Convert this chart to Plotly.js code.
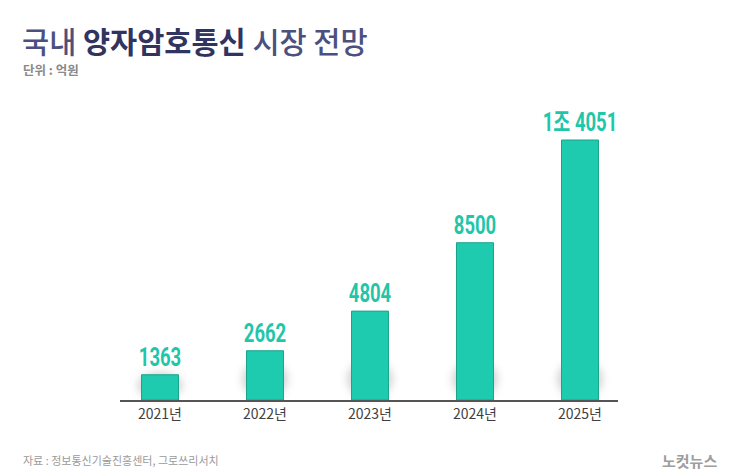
<!DOCTYPE html>
<html>
<head>
<meta charset="utf-8">
<script src="https://cdn.plot.ly/plotly-3.0.1.min.js"></script>
<style>
  html, body { margin: 0; padding: 0; background: #ffffff; }
  #chart { width: 740px; height: 476px; }
</style>
</head>
<body>
<div id="chart"></div>
<script>
const categories = ["2021년", "2022년", "2023년", "2024년", "2025년"];
const values = [1363, 2662, 4804, 8500, 14051];
const valueLabels = ["1363", "2662", "4804", "8500", "1조 4051"];

const korean = "'Noto Sans CJK KR', 'Noto Sans', sans-serif";
const labelFont = "Roboto, 'Noto Sans CJK KR', sans-serif";

const trace = {
  type: "bar",
  x: categories,
  y: values,
  text: valueLabels,
  textposition: "outside",
  constraintext: "none",
  cliponaxis: false,
  textfont: { family: labelFont, size: 25, color: "#1fc6a9", weight: 700 },
  width: 0.352,
  marker: { color: "#1fcbaf", line: { color: "#18a48c", width: 1 } },
  hoverinfo: "skip"
};

const plotW = 740 - 120 - 122, plotH = 476 - 100 - 76;
function px(x) { return (x - 120) / plotW; }
function py(y) { return (476 - 76 - y) / plotH; }

const layout = {
  width: 740,
  height: 476,
  paper_bgcolor: "#ffffff",
  plot_bgcolor: "#ffffff",
  margin: { l: 120, r: 122, t: 100, b: 76 },
  showlegend: false,
  bargap: 0,
  xaxis: {
    type: "category",
    range: [-0.381, 4.362],
    showgrid: false,
    zeroline: false,
    showline: true,
    linecolor: "#555555",
    linewidth: 2,
    ticks: "",
    tickfont: { family: korean, size: 14, color: "#3f3f3f" },
    fixedrange: true
  },
  yaxis: {
    range: [0, 16213],
    visible: false,
    showgrid: false,
    zeroline: false,
    fixedrange: true
  },
  annotations: [
    {
      xref: "paper", yref: "paper", x: px(20), y: py(40),
      xanchor: "left", yanchor: "middle", showarrow: false,
      text: "<span style='font-weight:500;color:#4b5080'>국내 </span><b>양자암호통신</b><span style='font-weight:500;color:#4b5080'> 시장 전망</span>",
      font: { family: korean, size: 29.5, color: "#30345f" }
    },
    {
      xref: "paper", yref: "paper", x: px(21), y: py(70),
      xanchor: "left", yanchor: "middle", showarrow: false,
      text: "<b>단위 : 억원</b>",
      font: { family: korean, size: 12.5, color: "#8a8a8a" }
    },
    {
      xref: "paper", yref: "paper", x: px(21), y: py(460),
      xanchor: "left", yanchor: "middle", showarrow: false,
      text: "자료 : 정보통신기술진흥센터, 그로쓰리서치",
      font: { family: korean, size: 11, color: "#9a9a9a" }
    },
    {
      xref: "paper", yref: "paper", x: px(719), y: py(460),
      xanchor: "right", yanchor: "middle", showarrow: false,
      text: "<b>노컷뉴스</b>",
      font: { family: korean, size: 15, color: "#9d9d9d" }
    }
  ]
};

Plotly.newPlot("chart", [trace], layout, { displayModeBar: false, staticPlot: true }).then(function (gd) {
  const NS = "http://www.w3.org/2000/svg";
  // condense the value labels horizontally, like the reference's narrow display face
  gd.querySelectorAll(".bartext").forEach(function (t) {
    const bb = t.getBBox();
    const cx = bb.x + bb.width / 2;
    const base = t.getAttribute("transform") || "";
    t.setAttribute("transform", base + " translate(" + cx + ",0) scale(0.74,1) translate(" + (-cx) + ",0)");
  });
  // soft grey glow at the foot of each bar
  const svg = gd.querySelector(".main-svg");
  let defs = svg.querySelector("defs");
  if (!defs) { defs = document.createElementNS(NS, "defs"); svg.insertBefore(defs, svg.firstChild); }
  const f = document.createElementNS(NS, "filter");
  f.setAttribute("id", "barglow");
  f.setAttribute("x", "-100%"); f.setAttribute("y", "-100%");
  f.setAttribute("width", "300%"); f.setAttribute("height", "300%");
  const blur = document.createElementNS(NS, "feGaussianBlur");
  blur.setAttribute("stdDeviation", "4");
  f.appendChild(blur);
  defs.appendChild(f);
  gd.querySelectorAll(".point path").forEach(function (p) {
    const bb = p.getBBox();
    const ry = Math.min(19, bb.height / 2);
    const e = document.createElementNS(NS, "ellipse");
    e.setAttribute("cx", bb.x + bb.width / 2);
    e.setAttribute("cy", bb.y + bb.height - ry - 2);
    e.setAttribute("rx", bb.width / 2 + 4);
    e.setAttribute("ry", ry);
    e.setAttribute("fill", "#8c8c8c");
    e.setAttribute("opacity", "0.4");
    e.setAttribute("filter", "url(#barglow)");
    p.parentNode.insertBefore(e, p);
  });
});
</script>
</body>
</html>
